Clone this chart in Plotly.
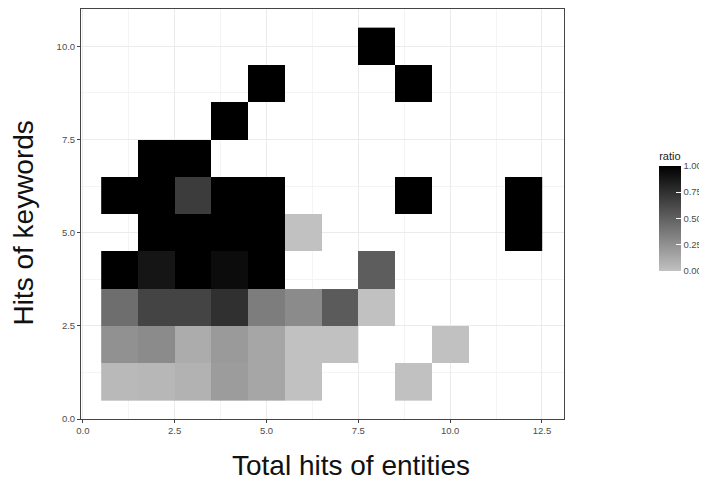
import plotly.graph_objects as go

entities = list(range(1, 13))
keywords = list(range(1, 11))

# ratio values per keywords row (index = entities 1..12), None = no tile
row1 = [0.04, 0.05, 0.08, 0.19, 0.14, 0.0, None, None, 0.0, None, None, None]
row2 = [0.25, 0.28, 0.11, 0.20, 0.14, 0.0, 0.0, None, None, 0.0, None, None]
row3 = [0.43, 0.65, 0.65, 0.75, 0.35, 0.28, 0.53, 0.0, None, None, None, None]
row4 = [1.0, 0.89, 1.0, 0.94, 1.0, None, None, 0.52, None, None, None, None]
row5 = [None, 1.0, 1.0, 1.0, 1.0, 0.0, None, None, None, None, None, 1.0]
row6 = [1.0, 1.0, 0.69, 1.0, 1.0, None, None, None, 1.0, None, None, 1.0]
row7 = [None, 1.0, 1.0, None, None, None, None, None, None, None, None, None]
row8 = [None, None, None, 1.0, None, None, None, None, None, None, None, None]
row9 = [None, None, None, None, 1.0, None, None, None, 1.0, None, None, None]
row10 = [None, None, None, None, None, None, None, 1.0, None, None, None, None]
z = [row1, row2, row3, row4, row5, row6, row7, row8, row9, row10]

x_ticks = [0.0, 2.5, 5.0, 7.5, 10.0, 12.5]
y_ticks = [0.0, 2.5, 5.0, 7.5, 10.0]
cb_ticks = [0.0, 0.25, 0.5, 0.75, 1.0]

x_title = 'Total hits of entities'
y_title = 'Hits of keywords'

fig = go.Figure(go.Heatmap(
    x=entities, y=keywords, z=z,
    zmin=0, zmax=1,
    colorscale=[[0, '#c1c1c1'], [1, '#000000']],
    hoverongaps=False,
    colorbar=dict(
        title=dict(text='ratio', side='top', font=dict(size=11, color='#222', family='Liberation Sans')),
        x=1.197, xanchor='left', y=0.51, yanchor='middle',
        thickness=22, len=122, lenmode='pixels',
        xpad=0, ypad=0,
        tickvals=cb_ticks, ticktext=['0.00', '0.25', '0.50', '0.75', '1.00'],
        ticks='inside', tickcolor='white', ticklen=5,
        tickfont=dict(size=9.5, color='#4d4d4d', family='Liberation Sans'),
        outlinewidth=0,
    ),
))

axis_common = dict(
    showline=True, linecolor='#444', linewidth=1, mirror=True,
    ticks='outside', ticklen=3, tickcolor='#444',
    tickfont=dict(size=9.5, color='#4d4d4d', family='Liberation Sans'),
    showgrid=True, gridcolor='#ebebeb', gridwidth=1,
    zeroline=False, automargin=False,
)

# page body has an 8px default margin, so the figure is sized/offset to compensate
fig.update_layout(
    width=699, height=476,
    margin=dict(l=73, r=143, t=1, b=65, autoexpand=False),
    paper_bgcolor='white', plot_bgcolor='white',
    xaxis=dict(range=[-0.05, 13.1], tickvals=x_ticks,
               ticktext=['0.0', '2.5', '5.0', '7.5', '10.0', '12.5'],
               minor=dict(dtick=1.25, tick0=1.25, showgrid=True, gridcolor='#f4f4f4', ticks=''),
               **axis_common),
    yaxis=dict(range=[0, 11], tickvals=y_ticks,
               ticktext=['0.0', '2.5', '5.0', '7.5', '10.0'],
               minor=dict(dtick=1.25, tick0=1.25, showgrid=True, gridcolor='#f4f4f4', ticks=''),
               **axis_common),
    annotations=[
        dict(text=x_title, xref='paper', yref='paper', x=0.559, y=-0.114,
             xanchor='center', yanchor='middle', showarrow=False,
             font=dict(size=28, color='#111', family='Liberation Sans')),
        dict(text=y_title, xref='paper', yref='paper', x=-0.121, y=0.478,
             xanchor='center', yanchor='middle', showarrow=False, textangle=-90,
             font=dict(size=28, color='#111', family='Liberation Sans')),
    ],
)

fig.write_html("out.html")
